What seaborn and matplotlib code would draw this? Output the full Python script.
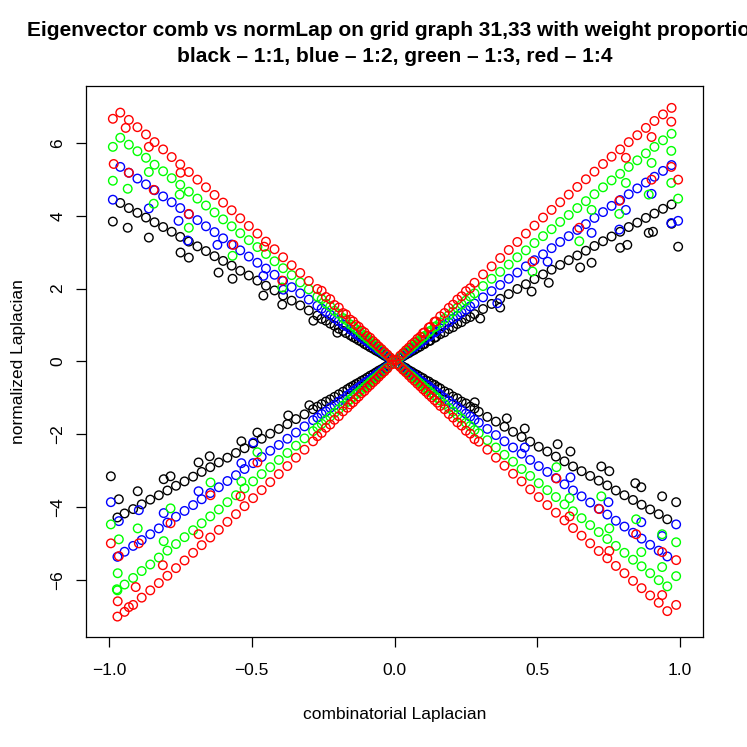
import pandas as pd
import matplotlib
matplotlib.use("Agg")
import matplotlib.pyplot as plt
import seaborn as sns

# x positions of the main line points on each arm of the X
tr_x = [0.02, 0.04, 0.06, 0.08, 0.10, 0.12, 0.14, 0.16, 0.19, 0.22, 0.25, 0.28, 0.31, 0.34, 0.37, 0.40, 0.43, 0.46,
        0.49, 0.52, 0.55, 0.58, 0.61, 0.64, 0.67, 0.70, 0.73, 0.76, 0.79, 0.82, 0.85, 0.88, 0.91, 0.94, 0.97]
tl_x = [-0.015, -0.035, -0.055, -0.075, -0.095, -0.115, -0.135, -0.155, -0.18, -0.21, -0.24, -0.27, -0.30, -0.33,
        -0.36, -0.39, -0.42, -0.45, -0.48, -0.51, -0.54, -0.57, -0.60, -0.63, -0.66, -0.69, -0.72, -0.75, -0.78,
        -0.81, -0.84, -0.87, -0.90, -0.93, -0.96]
bl_x = [-0.025, -0.045, -0.065, -0.085, -0.105, -0.125, -0.145, -0.165, -0.195, -0.225, -0.255, -0.285, -0.315,
        -0.345, -0.375, -0.405, -0.435, -0.465, -0.495, -0.525, -0.555, -0.585, -0.615, -0.645, -0.675, -0.705,
        -0.735, -0.765, -0.795, -0.825, -0.855, -0.885, -0.915, -0.945, -0.97]
br_x = [0.01, 0.03, 0.05, 0.07, 0.09, 0.11, 0.13, 0.15, 0.175, 0.205, 0.235, 0.265, 0.295, 0.325, 0.355, 0.385,
        0.415, 0.445, 0.475, 0.505, 0.535, 0.565, 0.595, 0.625, 0.655, 0.685, 0.715, 0.745, 0.775, 0.805, 0.835,
        0.865, 0.895, 0.925, 0.955]

# extra points of the dense cluster near the crossing
tr_cx = [0.005, 0.03, 0.05, 0.07, 0.09, 0.105, 0.125, 0.145, 0.175, 0.205, 0.235, 0.265]
tl_cx = [-0.005, -0.025, -0.045, -0.065, -0.085, -0.105, -0.125, -0.145, -0.17, -0.195, -0.225, -0.255]
bl_cx = [-0.01, -0.035, -0.055, -0.075, -0.095, -0.115, -0.135, -0.155, -0.18, -0.21, -0.24, -0.27]
br_cx = [0.02, 0.04, 0.06, 0.08, 0.10, 0.12, 0.14, 0.16, 0.19, 0.22, 0.25, 0.28]

# black - 1:1
black_tr_y = [0.09, 0.19, 0.28, 0.37, 0.47, 0.56, 0.65, 0.75, 0.89, 1.03, 1.17, 1.30, 1.44, 1.58, 1.72, 1.85, 1.99,
              2.12, 2.26, 2.39, 2.52, 2.65, 2.78, 2.91, 3.04, 3.17, 3.30, 3.43, 3.56, 3.69, 3.81, 3.94, 4.06, 4.19, 4.31]
black_tl_y = [0.07, 0.16, 0.26, 0.35, 0.44, 0.54, 0.63, 0.72, 0.84, 0.98, 1.12, 1.26, 1.40, 1.54, 1.67, 1.81, 1.95,
              2.08, 2.22, 2.36, 2.49, 2.63, 2.76, 2.89, 3.03, 3.16, 3.29, 3.42, 3.56, 3.69, 3.82, 3.95, 4.08, 4.21, 4.35]
black_bl_y = [-0.11, -0.21, -0.30, -0.39, -0.49, -0.58, -0.67, -0.76, -0.90, -1.04, -1.17, -1.31, -1.45, -1.58,
              -1.72, -1.85, -1.98, -2.12, -2.25, -2.38, -2.51, -2.64, -2.77, -2.90, -3.03, -3.16, -3.29, -3.41,
              -3.54, -3.67, -3.79, -3.92, -4.05, -4.17, -4.28]
black_br_y = [-0.05, -0.14, -0.24, -0.33, -0.42, -0.52, -0.61, -0.70, -0.82, -0.96, -1.10, -1.24, -1.38, -1.52,
              -1.65, -1.79, -1.93, -2.07, -2.20, -2.34, -2.47, -2.61, -2.74, -2.88, -3.01, -3.14, -3.27, -3.40,
              -3.54, -3.67, -3.80, -3.93, -4.06, -4.19, -4.33]
black_c_y = [0.02, 0.14, 0.23, 0.32, 0.41, 0.48, 0.57, 0.67, 0.80, 0.94, 1.08, 1.22,
             0.02, 0.12, 0.21, 0.30, 0.39, 0.48, 0.58, 0.67, 0.78, 0.90, 1.04, 1.17,
             -0.05, -0.16, -0.25, -0.35, -0.44, -0.53, -0.62, -0.71, -0.83, -0.97, -1.10, -1.24,
             -0.09, -0.18, -0.28, -0.37, -0.46, -0.55, -0.64, -0.74, -0.87, -1.01, -1.15, -1.29]
black_sec_x = [0.30, 0.37, 0.48, 0.54, 0.65, 0.69, 0.79, 0.815, 0.89, 0.905, 0.97, 0.993,
               -0.986, -0.934, -0.86, -0.749, -0.72, -0.616, -0.567, -0.459, -0.393, -0.284, -0.20,
               -0.993, -0.965, -0.899, -0.808, -0.784, -0.686, -0.647, -0.536, -0.48, -0.372, -0.298,
               0.281, 0.393, 0.456, 0.571, 0.616, 0.724, 0.752, 0.843, 0.864, 0.937, 0.986]
black_sec_y = [1.18, 1.48, 1.92, 2.16, 2.58, 2.71, 3.12, 3.20, 3.53, 3.56, 3.78, 3.15,
               3.84, 3.67, 3.40, 2.99, 2.85, 2.44, 2.27, 1.81, 1.56, 1.12, 0.79,
               -3.15, -3.78, -3.56, -3.23, -3.15, -2.77, -2.60, -2.19, -1.95, -1.48, -1.20,
               -1.12, -1.56, -1.84, -2.27, -2.47, -2.88, -3.01, -3.34, -3.45, -3.70, -3.86]

# blue - 1:2
blue_tr_y = [0.11, 0.23, 0.34, 0.46, 0.57, 0.68, 0.80, 0.91, 1.08, 1.25, 1.42, 1.59, 1.76, 1.93, 2.10, 2.27, 2.44,
             2.61, 2.78, 2.94, 3.11, 3.28, 3.44, 3.61, 3.77, 3.94, 4.10, 4.27, 4.43, 4.59, 4.75, 4.91, 5.07, 5.23, 5.39]
blue_tl_y = [0.08, 0.20, 0.31, 0.42, 0.54, 0.65, 0.76, 0.88, 1.02, 1.19, 1.36, 1.53, 1.70, 1.87, 2.04, 2.21, 2.38,
             2.55, 2.71, 2.88, 3.05, 3.21, 3.38, 3.55, 3.71, 3.88, 4.04, 4.21, 4.37, 4.53, 4.70, 4.86, 5.02, 5.18, 5.34]
blue_bl_y = [-0.14, -0.25, -0.37, -0.48, -0.59, -0.71, -0.82, -0.93, -1.10, -1.27, -1.44, -1.61, -1.78, -1.95,
             -2.12, -2.29, -2.45, -2.62, -2.79, -2.95, -3.12, -3.28, -3.45, -3.61, -3.78, -3.94, -4.10, -4.26,
             -4.42, -4.58, -4.74, -4.90, -5.06, -5.22, -5.36]
blue_br_y = [-0.06, -0.17, -0.29, -0.40, -0.52, -0.63, -0.75, -0.86, -1.00, -1.17, -1.34, -1.51, -1.68, -1.85,
             -2.02, -2.19, -2.36, -2.53, -2.70, -2.87, -3.03, -3.20, -3.37, -3.54, -3.70, -3.87, -4.04, -4.20,
             -4.37, -4.53, -4.70, -4.86, -5.03, -5.19, -5.35]
blue_c_y = [0.03, 0.17, 0.28, 0.40, 0.51, 0.60, 0.71, 0.83, 1.00, 1.17, 1.34, 1.51,
            0.03, 0.14, 0.26, 0.37, 0.48, 0.60, 0.71, 0.83, 0.97, 1.11, 1.28, 1.45,
            -0.06, -0.20, -0.31, -0.43, -0.54, -0.66, -0.77, -0.88, -1.03, -1.20, -1.37, -1.54,
            -0.11, -0.23, -0.34, -0.46, -0.57, -0.68, -0.80, -0.91, -1.08, -1.25, -1.43, -1.60]
blue_sec_x = [0.36, 0.536, 0.69, 0.787, 0.81, 0.90, 0.969, 0.993,
              -0.986, -0.86, -0.756, -0.724, -0.62, -0.459, -0.389,
              -0.993, -0.965, -0.895, -0.808, -0.686, -0.536, -0.494,
              0.456, 0.616, 0.749, 0.864, 0.937, 0.986]
blue_sec_y = [1.60, 2.74, 3.53, 3.62, 4.16, 4.60, 3.80, 3.86,
              4.44, 4.20, 3.86, 3.32, 3.20, 2.35, 1.97,
              -3.86, -4.38, -4.08, -4.16, -3.56, -2.79, -2.22,
              -2.36, -3.18, -3.86, -4.41, -4.79, -4.47]

# green - 1:3
green_tr_y = [0.13, 0.27, 0.40, 0.54, 0.67, 0.80, 0.94, 1.07, 1.27, 1.47, 1.67, 1.87, 2.07, 2.27, 2.46, 2.66, 2.86,
              3.05, 3.25, 3.44, 3.63, 3.83, 4.02, 4.21, 4.40, 4.59, 4.78, 4.97, 5.15, 5.34, 5.52, 5.71, 5.89, 6.07, 6.25]
green_tl_y = [0.10, 0.23, 0.36, 0.50, 0.63, 0.76, 0.89, 1.02, 1.19, 1.39, 1.59, 1.78, 1.98, 2.17, 2.37, 2.56, 2.75,
              2.95, 3.14, 3.33, 3.52, 3.71, 3.90, 4.09, 4.28, 4.47, 4.66, 4.85, 5.03, 5.22, 5.40, 5.59, 5.77, 5.95, 6.14]
green_bl_y = [-0.17, -0.30, -0.44, -0.57, -0.71, -0.84, -0.98, -1.11, -1.31, -1.51, -1.71, -1.91, -2.11, -2.31,
              -2.51, -2.70, -2.90, -3.09, -3.29, -3.48, -3.67, -3.86, -4.06, -4.25, -4.44, -4.63, -4.82, -5.01,
              -5.19, -5.38, -5.57, -5.75, -5.94, -6.12, -6.28]
green_br_y = [-0.07, -0.20, -0.34, -0.47, -0.60, -0.74, -0.87, -1.00, -1.17, -1.37, -1.57, -1.77, -1.97, -2.16,
              -2.36, -2.56, -2.75, -2.95, -3.14, -3.34, -3.53, -3.72, -3.92, -4.11, -4.30, -4.49, -4.68, -4.87,
              -5.06, -5.25, -5.44, -5.62, -5.81, -6.00, -6.17]
green_c_y = [0.03, 0.20, 0.34, 0.47, 0.60, 0.70, 0.84, 0.97, 1.17, 1.37, 1.57, 1.78,
             0.03, 0.17, 0.30, 0.44, 0.57, 0.70, 0.84, 0.97, 1.14, 1.31, 1.51, 1.71,
             -0.07, -0.23, -0.37, -0.50, -0.64, -0.77, -0.90, -1.04, -1.21, -1.41, -1.61, -1.81,
             -0.13, -0.27, -0.40, -0.54, -0.67, -0.80, -0.94, -1.07, -1.27, -1.47, -1.68, -1.88]
green_sec_x = [0.483, 0.647, 0.69, 0.787, 0.81, 0.89, 0.90, 0.969, 0.969, 0.993,
               -0.986, -0.986, -0.934, -0.86, -0.843, -0.752, -0.72, -0.567, -0.393,
               -0.993, -0.965, -0.899, -0.808, -0.784, -0.644, -0.536, -0.48, -0.969, -0.972,
               0.986, 0.986, 0.937, 0.937, 0.846, 0.864, 0.752, 0.724, 0.613, 0.567]
green_sec_y = [2.47, 3.30, 4.16, 4.05, 4.90, 4.58, 5.45, 4.90, 5.78, 4.47,
               4.96, 5.89, 4.74, 5.20, 4.33, 4.58, 3.67, 2.90, 2.03,
               -4.47, -4.88, -4.58, -4.93, -4.03, -3.32, -3.29, -2.49, -5.81, -6.25,
               -4.96, -5.89, -5.64, -4.74, -4.33, -5.23, -4.58, -3.70, -3.75, -2.90]

# red - 1:4
red_tr_y = [0.16, 0.31, 0.47, 0.62, 0.78, 0.93, 1.09, 1.24, 1.47, 1.70, 1.93, 2.16, 2.39, 2.61, 2.84, 3.06, 3.28,
            3.51, 3.73, 3.95, 4.16, 4.37, 4.58, 4.79, 5.00, 5.21, 5.42, 5.62, 5.82, 6.02, 6.21, 6.41, 6.60, 6.78, 6.96]
red_tl_y = [0.11, 0.26, 0.41, 0.56, 0.70, 0.85, 1.00, 1.15, 1.33, 1.55, 1.77, 1.99, 2.21, 2.43, 2.64, 2.86, 3.08,
            3.29, 3.51, 3.72, 3.93, 4.15, 4.36, 4.57, 4.78, 4.99, 5.20, 5.41, 5.61, 5.82, 6.02, 6.23, 6.43, 6.63, 6.83]
red_bl_y = [-0.19, -0.34, -0.50, -0.65, -0.81, -0.96, -1.12, -1.27, -1.50, -1.73, -1.96, -2.19, -2.42, -2.64,
            -2.87, -3.09, -3.31, -3.53, -3.75, -3.97, -4.19, -4.40, -4.62, -4.83, -5.04, -5.25, -5.46, -5.67,
            -5.88, -6.08, -6.28, -6.48, -6.68, -6.87, -7.00]
red_br_y = [-0.08, -0.23, -0.38, -0.53, -0.68, -0.83, -0.98, -1.13, -1.31, -1.54, -1.76, -1.98, -2.20, -2.42,
            -2.64, -2.86, -3.08, -3.29, -3.51, -3.72, -3.94, -4.15, -4.36, -4.57, -4.78, -4.99, -5.20, -5.40,
            -5.61, -5.81, -6.02, -6.22, -6.42, -6.62, -6.85]
red_c_y = [0.04, 0.23, 0.38, 0.53, 0.68, 0.80, 0.95, 1.10, 1.33, 1.56, 1.79, 2.01,
           0.04, 0.19, 0.34, 0.49, 0.65, 0.80, 0.95, 1.10, 1.29, 1.48, 1.71, 1.94,
           -0.08, -0.27, -0.42, -0.57, -0.72, -0.87, -1.03, -1.18, -1.37, -1.60, -1.82, -2.05,
           -0.15, -0.30, -0.46, -0.61, -0.76, -0.91, -1.06, -1.22, -1.44, -1.67, -1.90, -2.13]
red_sec_x = [0.483, 0.647, 0.787, 0.81, 0.90, 0.90, 0.969, 0.969, 0.993,
             -0.986, -0.983, -0.941, -0.93, -0.86, -0.843, -0.749, -0.72, -0.564, -0.456, -0.393,
             -0.993, -0.969, -0.965, -0.93, -0.906, -0.895, -0.811, -0.784, -0.686, -0.644, -0.539, -0.48,
             0.986, 0.986, 0.937, 0.937, 0.846, 0.752, 0.717, 0.613, 0.567]
red_sec_y = [2.74, 3.67, 4.41, 5.59, 6.16, 4.99, 5.34, 6.58, 4.99,
             6.66, 5.42, 6.41, 5.18, 5.89, 4.71, 5.18, 4.05, 3.20, 3.15, 2.22,
             -4.99, -6.58, -5.34, -6.74, -6.19, -4.99, -5.59, -4.44, -4.74, -3.67, -3.70, -2.77,
             -5.45, -6.68, -6.41, -5.23, -4.74, -5.20, -4.05, -4.25, -3.21]

series = [
    ("black", black_tr_y, black_tl_y, black_bl_y, black_br_y, black_c_y, black_sec_x, black_sec_y),
    ("blue", blue_tr_y, blue_tl_y, blue_bl_y, blue_br_y, blue_c_y, blue_sec_x, blue_sec_y),
    ("#00ff00", green_tr_y, green_tl_y, green_bl_y, green_br_y, green_c_y, green_sec_x, green_sec_y),
    ("red", red_tr_y, red_tl_y, red_bl_y, red_br_y, red_c_y, red_sec_x, red_sec_y),
]

sns.set_theme(style="white")
plt.rcParams['font.family'] = ['Liberation Sans', 'DejaVu Sans']

fig = plt.figure(figsize=(7.47, 7.47), dpi=100)
ax = fig.add_axes([86 / 747, 1 - 637 / 747, 617 / 747, 551 / 747])

for col, ytr, ytl, ybl, ybr, yc, sx, sy in series:
    df = pd.DataFrame({
        "comb": tr_x + tl_x + bl_x + br_x + tr_cx + tl_cx + bl_cx + br_cx + sx,
        "norm": ytr + ytl + ybl + ybr + yc + sy,
    })
    sns.scatterplot(data=df, x="comb", y="norm", ax=ax, marker="o", s=38,
                    facecolor="none", edgecolor=col, linewidth=1.0, legend=False)

ax.set_xlim(-1.08, 1.08)
ax.set_ylim(-7.56, 7.56)
ax.set_xticks([-1.0, -0.5, 0.0, 0.5, 1.0])
ax.set_xticklabels(["\u22121.0", "\u22120.5", "0.0", "0.5", "1.0"])
ax.set_yticks([-6, -4, -2, 0, 2, 4, 6])
ax.set_yticklabels(["\u22126", "\u22124", "\u22122", "0", "2", "4", "6"], rotation=90, va="center")
ax.tick_params(axis="both", direction="out", length=7, width=0.9, color="black",
               labelsize=12.5, labelcolor="black", bottom=True, left=True)
ax.tick_params(axis="x", pad=12)
ax.tick_params(axis="y", pad=8)
for sp in ax.spines.values():
    sp.set_visible(True)
    sp.set_color("black")
    sp.set_linewidth(0.9)

ax.set_xlabel("combinatorial Laplacian", fontsize=12.5, color="black")
ax.set_ylabel("normalized Laplacian", fontsize=12.5, color="black")
ax.xaxis.set_label_coords(0.5, -0.127)
ax.yaxis.set_label_coords(-0.098, 0.5)

# first title line is wider than the figure in the original, so it runs off the right edge there too
fig.text(394.5 / 747, 1 - 31 / 747, "Eigenvector comb vs normLap on grid graph 31,33 with weight proportion",
         ha="center", va="center", fontsize=15, fontweight="bold", color="black")
fig.text(394.5 / 747, 1 - 57 / 747, "black \u2013 1:1, blue \u2013 1:2, green \u2013 1:3, red \u2013 1:4",
         ha="center", va="center", fontsize=15, fontweight="bold", color="black")

fig.savefig("out.png", dpi=100)
